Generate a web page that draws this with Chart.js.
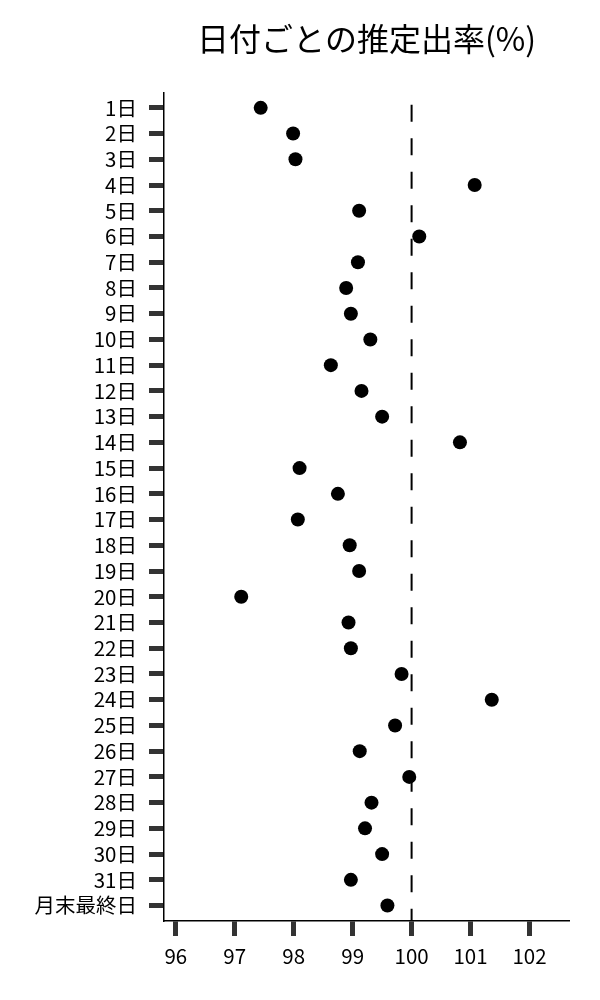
<!DOCTYPE html>
<html>
<head>
<meta charset="utf-8">
<script src="https://cdn.jsdelivr.net/npm/chart.js@4/dist/chart.umd.min.js"></script>
<style>
  html, body { margin: 0; padding: 0; background: #ffffff; }
  #chart-wrap { width: 600px; height: 1000px; }
</style>
</head>
<body>
<div id="chart-wrap"><canvas id="rate-chart" width="600" height="1000"></canvas></div>
<script>
// Day labels (top to bottom)
const dayLabels = [
  "1日", "2日", "3日", "4日", "5日", "6日", "7日", "8日", "9日", "10日",
  "11日", "12日", "13日", "14日", "15日", "16日", "17日", "18日", "19日", "20日",
  "21日", "22日", "23日", "24日", "25日", "26日", "27日", "28日", "29日", "30日",
  "31日", "月末最終日"
];

// Estimated rate (%) per day
const rateValues = [
  97.44, 97.99, 98.03, 101.07, 99.11, 100.13, 99.09, 98.89, 98.97, 99.30,
  98.63, 99.15, 99.50, 100.82, 98.10, 98.75, 98.07, 98.95, 99.11, 97.11,
  98.93, 98.97, 99.83, 101.36, 99.72, 99.12, 99.96, 99.32, 99.21, 99.50,
  98.97, 99.59
];

const xTickValues = [96, 97, 98, 99, 100, 101, 102];
const referenceRate = 100;

const FONT = "'Noto Sans CJK JP', 'Noto Sans', sans-serif";

const points = rateValues.map((v, i) => ({ x: v, y: i }));
const refLine = [{ x: referenceRate, y: -0.12 }, { x: referenceRate, y: dayLabels.length - 0.4 }];

const ctx = document.getElementById("rate-chart").getContext("2d");
new Chart(ctx, {
  type: "scatter",
  data: {
    datasets: [
      {
        label: "基準",
        type: "line",
        data: refLine,
        borderColor: "#000000",
        borderWidth: 2,
        borderDash: [17, 16.5],
        pointRadius: 0,
        fill: false,
        order: 2
      },
      {
        label: "推定出率",
        data: points,
        backgroundColor: "#000000",
        borderColor: "#000000",
        pointRadius: 7,
        pointHoverRadius: 7,
        borderWidth: 0,
        order: 1
      }
    ]
  },
  options: {
    responsive: false,
    animation: false,
    layout: { padding: { left: 0, right: 31, top: 0, bottom: 0 } },
    plugins: {
      legend: { display: false },
      tooltip: { enabled: false },
      title: {
        display: true,
        text: "日付ごとの推定出率(%)",
        fullSize: false,
        color: "#000000",
        font: { family: FONT, size: 32, weight: "normal" },
        padding: { top: 20, bottom: 34 }
      }
    },
    scales: {
      x: {
        type: "linear",
        min: 95.8,
        max: 102.67,
        afterBuildTicks: (scale) => {
          scale.ticks = xTickValues.map(v => ({ value: v }));
        },
        afterFit: (scale) => { scale.height = 79; },
        grid: {
          drawOnChartArea: false,
          drawTicks: true,
          tickLength: 15,
          tickWidth: 5,
          tickColor: "#333333"
        },
        border: { display: true, color: "#000000", width: 1.5 },
        ticks: {
          color: "#000000",
          padding: 8,
          font: { family: FONT, size: 20.5 }
        }
      },
      y: {
        type: "linear",
        reverse: true,
        min: -0.6,
        max: dayLabels.length - 0.4,
        afterBuildTicks: (scale) => {
          scale.ticks = dayLabels.map((_, i) => ({ value: i }));
        },
        afterFit: (scale) => { scale.width = 164; },
        grid: {
          drawOnChartArea: false,
          drawTicks: true,
          tickLength: 15,
          tickWidth: 5,
          tickColor: "#333333"
        },
        border: { display: true, color: "#000000", width: 1.5 },
        ticks: {
          color: "#000000",
          padding: 12,
          autoSkip: false,
          font: { family: FONT, size: 20.5 },
          callback: (value) => dayLabels[value]
        }
      }
    }
  }
});
</script>
</body>
</html>
